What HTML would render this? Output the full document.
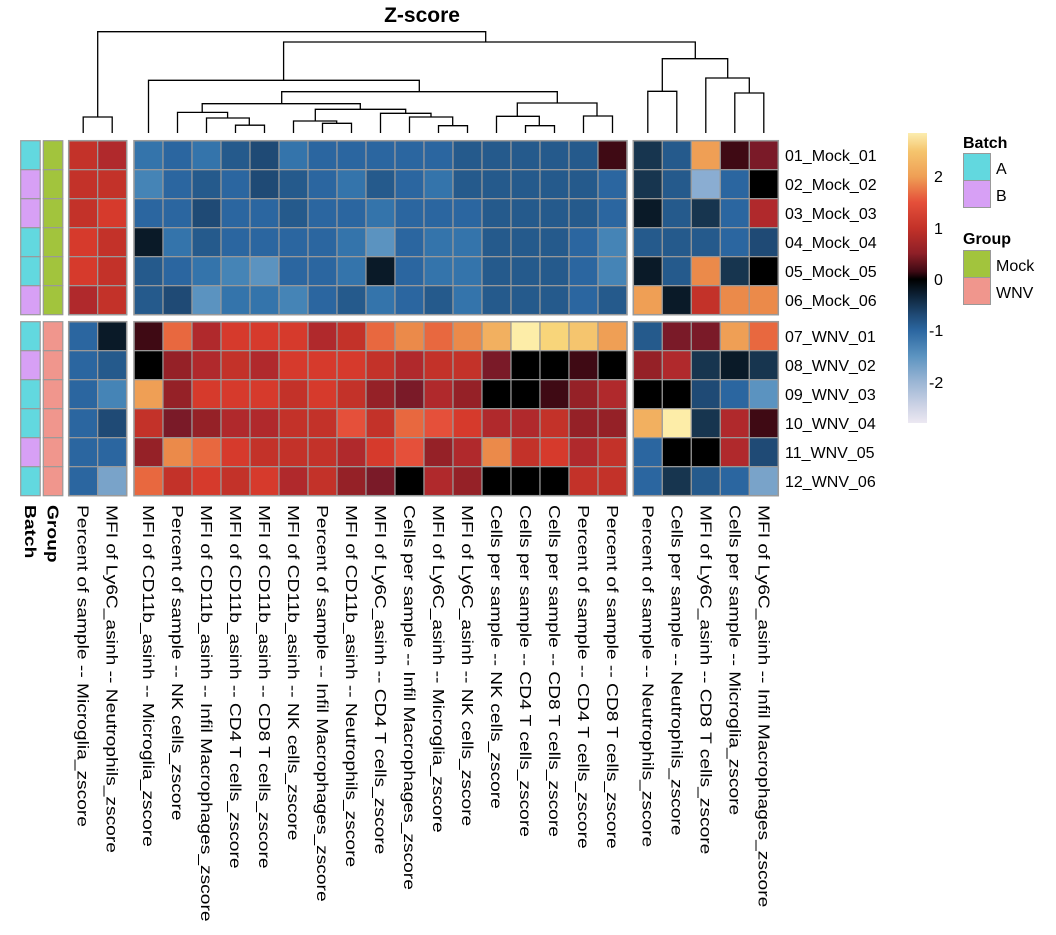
<!DOCTYPE html>
<html><head><meta charset="utf-8"><style>
html,body{margin:0;padding:0;background:#fff;}
svg{display:block;font-family:"Liberation Sans",Arial,sans-serif;}
</style></head><body>
<svg id="s" width="1056" height="935" viewBox="0 0 1056 935" xmlns="http://www.w3.org/2000/svg">
<defs>
<linearGradient id="cb" x1="0" y1="0" x2="0" y2="1">
<stop offset="0" stop-color="#FCEDB0"/>
<stop offset="0.062" stop-color="#F5C56E"/>
<stop offset="0.150" stop-color="#EF9F55"/>
<stop offset="0.238" stop-color="#E5503A"/>
<stop offset="0.327" stop-color="#C33229"/>
<stop offset="0.415" stop-color="#8E1F27"/>
<stop offset="0.477" stop-color="#3F0A14"/>
<stop offset="0.504" stop-color="#000000"/>
<stop offset="0.556" stop-color="#0C2033"/>
<stop offset="0.627" stop-color="#1F4A75"/>
<stop offset="0.680" stop-color="#2B66A0"/>
<stop offset="0.768" stop-color="#5B93C0"/>
<stop offset="0.857" stop-color="#9AB5D4"/>
<stop offset="0.945" stop-color="#CFD4E6"/>
<stop offset="1" stop-color="#ECE8F2"/>
</linearGradient>
</defs>
<text x="422" y="22" font-size="21" font-weight="bold" text-anchor="middle">Z-score</text>
<g id="dend" stroke="#000" stroke-width="1.3" fill="none"></g>
<g id="cells"></g>
<g id="labels" font-size="16" fill="#000"></g>
<rect x="908" y="133" width="19" height="290" fill="url(#cb)"/>
<g font-size="16">
<text x="934" y="182">2</text>
<text x="934" y="234">1</text>
<text x="934" y="285">0</text>
<text x="929" y="336">-1</text>
<text x="929" y="388">-2</text>
<text x="963" y="148" font-weight="bold">Batch</text>
<rect x="963.5" y="153.5" width="27" height="27" fill="#62D8DF" stroke="#999"/>
<rect x="963.5" y="180.5" width="27" height="27" fill="#D7A0F5" stroke="#999"/>
<text x="996" y="174">A</text>
<text x="996" y="201">B</text>
<text x="963" y="244" font-weight="bold">Group</text>
<rect x="963.5" y="250.5" width="27" height="27" fill="#A2C43D" stroke="#999"/>
<rect x="963.5" y="277.5" width="27" height="27" fill="#F0968D" stroke="#999"/>
<text x="996" y="271">Mock</text>
<text x="996" y="298">WNV</text>
</g>
</svg>
<script>
const NS="http://www.w3.org/2000/svg";
function el(p,t,a,txt){const e=document.createElementNS(NS,t);for(const k in a)e.setAttribute(k,a[k]);if(txt!==undefined)e.textContent=txt;p.appendChild(e);return e;}
const C={b1:"#3474AB",b2:"#2B66A0",b3:"#255A8C",b4:"#1F4A75",bl:"#4584B6",bl2:"#5B93C0",d1:"#17354F",d0:"#0A1A28",k:"#000000",
r1:"#D63A2C",r2:"#C33229",r3:"#B0292C",r4:"#952127",r5:"#7A1A28",r6:"#3F0A14",o1:"#E8683F",o2:"#EB8A4A",o3:"#EF9F55",o4:"#F2B060",y1:"#FDEDA8",y2:"#F8D57A",y3:"#F5C56E",ro:"#E5503A",lb:"#79A3C9",pb:"#8AADD2"};
const B1=[["r2","r3"],["r2","r2"],["r2","r1"],["r1","r2"],["r1","r2"],["r3","r2"],["b2","d0"],["b2","b3"],["b2","bl"],["b2","b4"],["b2","b2"],["b2","lb"]];
const B2=[
"b1 b2 b1 b3 b4 b1 b2 b2 b2 b2 b2 b3 b3 b3 b3 b3 r6",
"bl b2 b3 b2 b4 b3 b2 b1 b3 b2 b1 b3 b3 b3 b3 b3 b2",
"b2 b2 b4 b2 b2 b3 b2 b2 b1 b2 b2 b2 b3 b3 b3 b3 b2",
"d0 b1 b3 b2 b2 b2 b2 b1 bl2 b2 b1 b1 b3 b3 b3 b2 bl",
"b3 b2 b1 bl bl2 b2 b2 b1 d0 b2 b1 b1 b3 b3 b3 b2 bl",
"b3 b4 bl2 b1 b1 bl b2 b3 b1 b2 b3 b1 b3 b3 b3 b2 b3",
"r6 o1 r3 r1 r1 r1 r3 r2 o1 o2 o1 o2 o4 y1 y2 y3 o3",
"k r4 r3 r2 r3 r1 r1 r1 r2 r3 r2 r2 r5 k k r6 k",
"o3 r4 r1 r1 r1 r2 r1 r2 r4 r5 r3 r4 k k r6 r4 r3",
"r2 r5 r4 r3 r3 r2 r2 ro r2 o1 ro r1 r3 r3 r2 r4 r4",
"r4 o2 o1 r1 r2 r2 r2 r3 r1 ro r4 r3 o2 r2 r1 r3 r2",
"o1 r2 r1 r2 r1 r3 r2 r4 r5 k r3 r4 k k k r2 r2"].map(s=>s.split(" "));
const B3=[
"d1 b3 o3 r6 r5","d1 b3 pb b2 k","d0 b3 d1 b2 r3","b3 b3 b3 b2 b4","d0 b3 o2 d1 k","o3 d0 r2 o2 o2",
"b3 r5 r5 o3 o1","r4 r3 d1 d0 d1","k k b4 b2 bl2","o4 y1 d1 r3 r6","b2 k k r3 b4","b2 d1 b3 b2 lb"].map(s=>s.split(" "));
const batch="ABBAABABAABA";
const W=29,H=29;
const rowY=i=>i<6?140.7+i*H:321.7+(i-6)*H;
const g=document.getElementById("cells");
function block(x0,data,n){
  for(let i=0;i<12;i++)for(let j=0;j<n;j++){
    el(g,"rect",{x:x0+j*W,y:rowY(i),width:W,height:H,fill:C[data[i][j]]||data[i][j],stroke:"#9a9a9a","stroke-width":1.2});
  }
  el(g,"rect",{x:x0,y:140.7,width:n*W,height:6*H,fill:"none",stroke:"#9a9a9a","stroke-width":1.5});
  el(g,"rect",{x:x0,y:321.7,width:n*W,height:6*H,fill:"none",stroke:"#9a9a9a","stroke-width":1.5});
}
const bat=[],grp=[];
for(let i=0;i<12;i++){bat.push([batch[i]=="A"?"#62D8DF":"#D7A0F5"]);grp.push([i<6?"#A2C43D":"#F0968D"]);}
function ann(x0,data){for(let i=0;i<12;i++)el(g,"rect",{x:x0,y:rowY(i),width:19.5,height:H,fill:data[i][0],stroke:"#9a9a9a","stroke-width":1.2});}
ann(20.7,bat);ann(43.3,grp);
block(68.7,B1,2);block(134,B2,17);block(633.3,B3,5);
const L=document.getElementById("labels");
const rn=["01_Mock_01","02_Mock_02","03_Mock_03","04_Mock_04","05_Mock_05","06_Mock_06","07_WNV_01","08_WNV_02","09_WNV_03","10_WNV_04","11_WNV_05","12_WNV_06"];
rn.forEach((t,i)=>el(L,"text",{x:785,y:rowY(i)+H/2+6},t));
const cn1=["Percent of sample -- Microglia_zscore","MFI of Ly6C_asinh -- Neutrophils_zscore"];
const cn2=["MFI of CD11b_asinh -- Microglia_zscore","Percent of sample -- NK cells_zscore","MFI of CD11b_asinh -- Infil Macrophages_zscore","MFI of CD11b_asinh -- CD4 T cells_zscore","MFI of CD11b_asinh -- CD8 T cells_zscore","MFI of CD11b_asinh -- NK cells_zscore","Percent of sample -- Infil Macrophages_zscore","MFI of CD11b_asinh -- Neutrophils_zscore","MFI of Ly6C_asinh -- CD4 T cells_zscore","Cells per sample -- Infil Macrophages_zscore","MFI of Ly6C_asinh -- Microglia_zscore","MFI of Ly6C_asinh -- NK cells_zscore","Cells per sample -- NK cells_zscore","Cells per sample -- CD4 T cells_zscore","Cells per sample -- CD8 T cells_zscore","Percent of sample -- CD4 T cells_zscore","Percent of sample -- CD8 T cells_zscore"];
const cn3=["Percent of sample -- Neutrophils_zscore","Cells per sample -- Neutrophils_zscore","MFI of Ly6C_asinh -- CD8 T cells_zscore","Cells per sample -- Microglia_zscore","MFI of Ly6C_asinh -- Infil Macrophages_zscore"];
function col(cx,t,bold){const a={x:0,y:0,transform:`translate(${cx-5.5},505) rotate(90) scale(1.2,1)`};if(bold)a["font-weight"]="bold";el(L,"text",a,t);}
col(30.5,"Batch",1);col(53,"Group",1);
cn1.forEach((t,j)=>col(68.7+W/2+j*W,t));
cn2.forEach((t,j)=>col(134+W/2+j*W,t));
cn3.forEach((t,j)=>col(633.3+W/2+j*W,t));
const D=document.getElementById("dend");const BOT=133;
function u(xl,xr,y,yl,yr){el(D,"path",{d:`M${xl} ${yl}V${y}H${xr}V${yr}`});}
const c2=j=>134+W/2+(j-1)*W, c3=j=>633.3+W/2+(j-1)*W;
u(97.7,485.7,31.7,117,42);
u(83.2,112.2,117,BOT,BOT);
u(283.6,695.3,42,80.3,58.7);
u(c2(1),419.3,80.3,BOT,91.7);
u(281.7,557.3,91.7,103.7,103);
u(202.2,360.3,103.7,112.4,109.3);
u(c2(2),227.6,112.4,BOT,118);
u(c2(3),249.3,118,BOT,125.2);
u(c2(4),c2(5),125.2,BOT,BOT);
u(315.3,405.7,109.3,121,113.3);
u(c2(6),336.7,121,BOT,123.3);
u(c2(7),c2(8),123.3,BOT,BOT);
u(c2(9),431,113.3,BOT,117);
u(c2(10),452.7,117,BOT,125.7);
u(c2(11),c2(12),125.7,BOT,BOT);
u(517.3,597,103,116.3,116);
u(c2(13),539.3,116.3,BOT,125.7);
u(c2(14),c2(15),125.7,BOT,BOT);
u(c2(16),c2(17),116,BOT,BOT);
u(662.3,727.7,58.7,91.3,78);
u(c3(1),c3(2),91.3,BOT,BOT);
u(c3(3),749.3,78,BOT,93);
u(c3(4),c3(5),93,BOT,BOT);
</script>
</body></html>
